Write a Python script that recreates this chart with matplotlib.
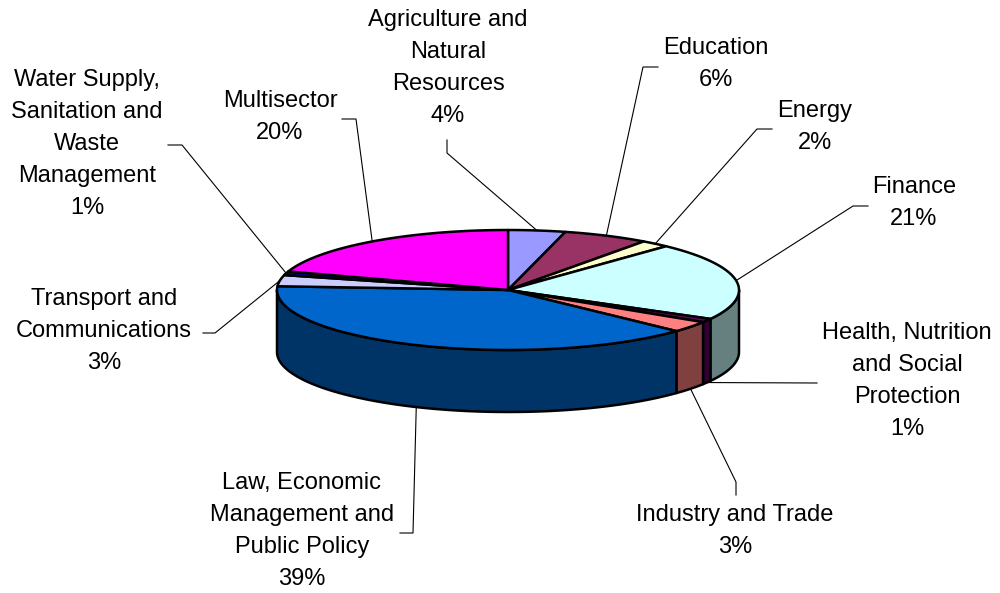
import numpy as np
import matplotlib.pyplot as plt
from matplotlib.patches import Polygon

plt.rcParams['font.family'] = ['Liberation Sans', 'DejaVu Sans']

# data
sectors = ["Agriculture and\nNatural\nResources", "Education", "Energy", "Finance",
           "Health, Nutrition\nand Social\nProtection", "Industry and Trade",
           "Law, Economic\nManagement and\nPublic Policy", "Transport and\nCommunications",
           "Water Supply,\nSanitation and\nWaste\nManagement", "Multisector"]
shares = [4, 6, 2, 21, 1, 3, 39, 3, 1, 20]

top_colors = ["#9999FF", "#993366", "#FFFFCC", "#CCFFFF", "#660066", "#FF8080",
              "#0066CC", "#CCCCFF", "#000080", "#FF00FF"]
side_colors = ["#4D4D80", "#4D1A33", "#808066", "#668080", "#330033", "#804040",
               "#003366", "#666680", "#000040", "#800080"]

# label centres and the short elbow of each leader line (pixels)
label_xy = [(448, 68), (716, 64), (815, 127), (914, 203), (907, 381),
            (735, 531), (302, 531), (104, 331), (87, 144), (280, 117)]
elbows = [[(447, 140), (447, 153)], [(658, 67), (643, 67)], [(772, 129), (757, 129)],
          [(868, 206), (853, 206)], [(817, 383)], [(736, 495), (736, 482)],
          [(400, 533), (413, 533)], [(203, 333), (215, 333)], [(168, 145), (182, 145)],
          [(342, 119), (356, 119)]]

# pie geometry (pixels)
cx, cy, rx, ry, depth = 508, 290, 231, 60, 62

fig = plt.figure(figsize=(10, 5.93), dpi=100)
ax = fig.add_axes([0, 0, 1, 1])
ax.set_xlim(0, 1000)
ax.set_ylim(593, 0)
ax.axis('off')


def edge(phi):
    t = np.radians(phi)
    return cx + rx * np.cos(t), cy - ry * np.sin(t)


n = len(shares)
cum = np.concatenate([[0], np.cumsum(shares)]) / sum(shares)
starts = 90 - 360 * cum[:-1]
ends = 90 - 360 * cum[1:]

# side walls, front half only
for i in range(n):
    lo, hi = ends[i], starts[i]
    for k in (-360, 0, 360):
        a = max(lo + k, -180)
        b = min(hi + k, 0)
        if a < b:
            phi = np.linspace(a, b, 80)
            x, y = edge(phi)
            xs = np.concatenate([x, x[::-1]])
            ys = np.concatenate([y, y[::-1] + depth])
            ax.add_patch(Polygon(np.column_stack([xs, ys]), fc=side_colors[i],
                                 ec='black', lw=1.8, joinstyle='round'))

# top faces
for i in range(n):
    phi = np.linspace(starts[i], ends[i], 100)
    x, y = edge(phi)
    pts = np.vstack([[cx, cy], np.column_stack([x, y])])
    ax.add_patch(Polygon(pts, fc=top_colors[i], ec='black', lw=1.8, joinstyle='round'))

# labels and leader lines
for i in range(n):
    mid = (starts[i] + ends[i]) / 2
    ex, ey = edge(mid)
    if np.sin(np.radians(mid)) < 0:
        ey = ey + depth
    pts = elbows[i] + [(ex, ey)]
    ax.plot([p[0] for p in pts], [p[1] for p in pts], color='black', lw=0.8)
    ax.text(label_xy[i][0], label_xy[i][1], f"{sectors[i]}\n{shares[i]}%",
            ha='center', va='center', multialignment='center',
            fontsize=17, linespacing=1.58, color='black')

fig.savefig("out.png", dpi=100)
